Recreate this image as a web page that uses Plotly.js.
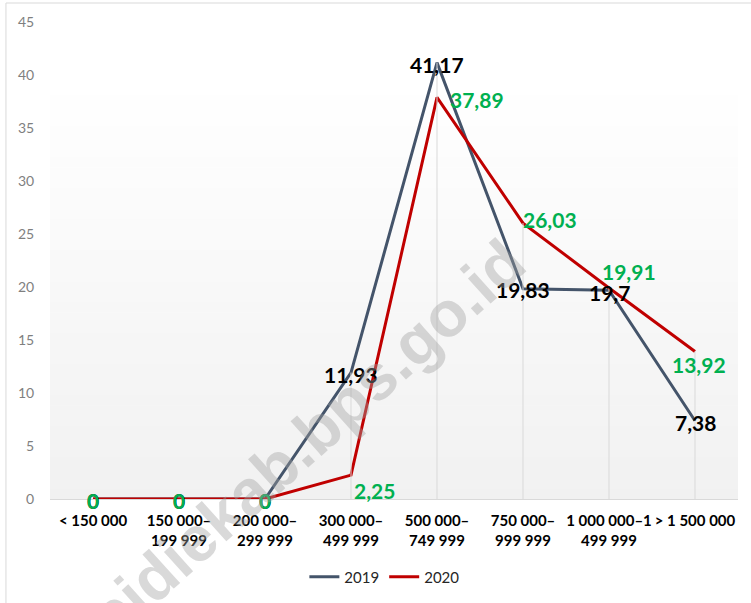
<!DOCTYPE html>
<html>
<head>
<meta charset="utf-8">
<script src="https://cdn.plot.ly/plotly-3.0.1.min.js"></script>
<style>html,body{margin:0;padding:0;background:#fff;}#chart{width:751px;height:603px;}</style>
</head>
<body>
<div id="chart"></div>
<script>
// ---- data ----
const categories = [
  "< 150 000",
  "150 000–<br>199 999",
  "200 000–<br>299 999",
  "300 000–<br>499 999",
  "500 000–<br>749 999",
  "750 000–<br>999 999",
  "1 000 000–1<br>499 999",
  "> 1 500 000"
];
const series2019 = [0, 0, 0, 11.93, 41.17, 19.83, 19.7, 7.38];
const series2020 = [0, 0, 0, 2.25, 37.89, 26.03, 19.91, 13.92];
const yTicks = [0, 5, 10, 15, 20, 25, 30, 35, 40, 45];

// ---- styling ----
const FONT = "Lato, 'Open Sans', sans-serif";
const C2019 = "#44546a";
const C2020 = "#c00000";
const LBL2019 = "#000000";
const LBL2020 = "#00b050";
// label offsets (px) per point, [xshift, yshift]
const off2019 = [[0,-1],[0,-1],[0,-1],[0,-2],[0,-2],[0,-1],[0,-2],[0,-2]];
const off2020 = [[0,-1],[0,-1],[0,-1],[23,-15],[40,-2],[27,4],[20,16],[4,-13]];

function fmt(v){ return String(v).replace('.', ','); }

// drop lines from the higher value down to the axis
const dropX = [], dropY = [];
categories.forEach((c,i)=>{
  const m = Math.max(series2019[i], series2020[i]);
  if (m > 0) { dropX.push(c, c, null); dropY.push(m, 0, null); }
});

const traces = [
  {x: categories, y: series2019, name: '2019', mode: 'lines',
   line: {color: C2019, width: 3}, cliponaxis: false},
  {x: categories, y: series2020, name: '2020', mode: 'lines',
   line: {color: C2020, width: 3}, cliponaxis: false},
  {x: dropX, y: dropY, mode: 'lines', line: {color: '#d9d9d9', width: 1},
   showlegend: false, hoverinfo: 'skip', cliponaxis: false}
];

const annotations = [];
categories.forEach((c,i)=>{
  annotations.push({x: c, y: series2019[i], xref: 'x', yref: 'y', text: fmt(series2019[i]),
    showarrow: false, xanchor: 'center', yanchor: 'middle',
    xshift: off2019[i][0], yshift: off2019[i][1],
    font: {family: FONT, size: 21, color: LBL2019, weight: 'bold'}});
});
categories.forEach((c,i)=>{
  annotations.push({x: c, y: series2020[i], xref: 'x', yref: 'y', text: fmt(series2020[i]),
    showarrow: false, xanchor: 'center', yanchor: 'middle',
    xshift: off2020[i][0], yshift: off2020[i][1],
    font: {family: FONT, size: 21, color: LBL2020, weight: 'bold'}});
});
// watermark
annotations.push({xref: 'paper', yref: 'paper', x: 0.372, y: 0.124, xanchor: 'center', yanchor: 'middle',
  text: 'pidiekab.bps.go.id', showarrow: false, textangle: -42,
  font: {family: "'Liberation Sans', Arial, sans-serif", size: 64, color: 'rgba(160,160,160,0.4)', weight: 'bold'}});

// plot-area gradient (white at top to light grey at bottom) via stacked bands
const shapes = [];
const gTop = 0.868, steps = 40;
for (let k = 0; k < steps; k++) {
  const t = (k + 0.5) / steps;
  const v = Math.round(255 - t * 14);
  shapes.push({type: 'rect', xref: 'paper', yref: 'paper', layer: 'below',
    x0: 0, x1: 1, y0: gTop * (1 - (k + 1) / steps), y1: gTop * (1 - k / steps) + 0.001,
    line: {width: 0}, fillcolor: `rgb(${v},${v},${v})`});
}
// outer chart border (top and left)
shapes.push({type: 'line', xref: 'paper', yref: 'paper', x0: -0.064, x1: 1.02, y0: 1.0398, y1: 1.0398,
  line: {color: '#d9d9d9', width: 1}});
shapes.push({type: 'line', xref: 'paper', yref: 'paper', x0: -0.064, x1: -0.064, y0: 1.0398, y1: -0.22,
  line: {color: '#d9d9d9', width: 1}});

const layout = {
  width: 751, height: 603,
  margin: {l: 50, r: 13, t: 22, b: 104},
  paper_bgcolor: '#ffffff', plot_bgcolor: 'rgba(0,0,0,0)',
  font: {family: FONT},
  showlegend: true,
  legend: {orientation: 'h', xref: 'paper', x: 0.486, xanchor: 'center',
    yref: 'container', y: 0.043, yanchor: 'middle',
    font: {family: FONT, size: 15, color: '#262626'}, itemwidth: 30, traceorder: 'normal'},
  xaxis: {type: 'category', categoryorder: 'array', categoryarray: categories,
    range: [-0.5, 7.5], showgrid: false, zeroline: false, automargin: false, tickangle: 0,
    showline: true, linecolor: '#d9d9d9', linewidth: 1, ticks: 'outside', ticklen: 8, tickcolor: 'rgba(0,0,0,0)',
    tickfont: {family: FONT, size: 15, color: '#000000', weight: 'bold'}, fixedrange: true},
  yaxis: {range: [0, 45], tickvals: yTicks, showgrid: false, zeroline: false, showline: false, automargin: false,
    ticks: 'outside', ticklen: 12, tickcolor: 'rgba(0,0,0,0)',
    tickfont: {family: FONT, size: 14, color: '#7f7f7f'}, fixedrange: true},
  annotations: annotations,
  shapes: shapes
};

Plotly.newPlot('chart', traces, layout, {displayModeBar: false, staticPlot: true});
</script>
</body>
</html>
